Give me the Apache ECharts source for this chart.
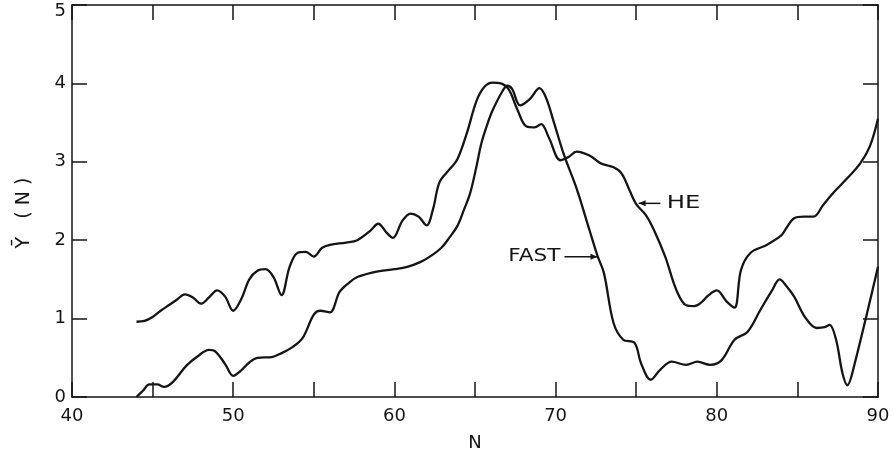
<!DOCTYPE html>
<html>
<head>
<meta charset="utf-8">
<script src="https://cdn.jsdelivr.net/npm/echarts@6/dist/echarts.min.js"></script>
<style>
  html, body { margin: 0; padding: 0; background: #fff; }
  #chart { width: 894px; height: 458px; }
</style>
</head>
<body>
<div id="chart"></div>
<script>
// HE curve (upper curve on the left)
const heN = [44, 44.5, 45, 45.5, 46, 46.5, 47, 47.5, 48, 48.5, 49, 49.5, 50, 50.5, 51, 51.5, 52, 52.5, 53, 53.5,
  54, 54.5, 55, 55.5, 56, 57, 57.7, 58.5, 59, 59.5, 59.9, 60.5, 61, 61.5, 62, 62.4, 62.8, 63.4, 63.9, 64.5,
  65.1, 65.6, 66.1, 66.6, 67.1, 67.6, 68.2, 68.7, 69.1, 69.6, 70.3, 70.8, 71.3, 72.1, 72.8, 73.6, 74.1, 74.6,
  75, 75.6, 76.1, 76.8, 77.5, 78.1, 78.6, 79, 79.5, 80, 80.6, 81.1, 81.5, 82.1, 83.1, 84, 84.3, 84.8, 85.4,
  86, 86.6, 87.3, 88, 88.9, 89.5, 90];
const heY = [0.96, 0.97, 1.02, 1.1, 1.17, 1.24, 1.31, 1.27, 1.19, 1.27, 1.36, 1.28, 1.1, 1.25, 1.5, 1.61, 1.63, 1.53, 1.3, 1.66,
  1.84, 1.85, 1.79, 1.9, 1.94, 1.97, 2.0, 2.12, 2.21, 2.1, 2.03, 2.25, 2.34, 2.3, 2.19, 2.4, 2.74, 2.9, 3.03, 3.37,
  3.78, 3.96, 4.01, 4.0, 3.92, 3.68, 3.45, 3.44, 3.48, 3.3, 3.02, 3.06, 3.13, 3.08, 2.98, 2.93, 2.85, 2.63,
  2.46, 2.32, 2.13, 1.79, 1.36, 1.17, 1.16, 1.2, 1.3, 1.36, 1.22, 1.14, 1.62, 1.84, 1.94, 2.06, 2.15, 2.28, 2.3,
  2.3, 2.45, 2.62, 2.77, 2.98, 3.2, 3.55];

// FAST curve (lower curve on the left)
const fastN = [44, 44.4, 44.8, 45.3, 45.7, 46.2, 47.1, 47.8, 48.5, 48.9, 49.5, 50, 50.5, 51, 51.5, 52.4, 53, 53.7,
  54.3, 55, 55.4, 56, 56.6, 57.2, 57.7, 58.9, 60, 60.8, 61.6, 62.2, 62.9, 63.4, 63.9, 64.3, 64.7, 65.1, 65.4,
  65.8, 66.1, 66.7, 67, 67.3, 67.8, 68.4, 69, 69.4, 69.9, 70.5, 71.3, 72.1, 72.6, 73, 73.6, 74.2, 74.9, 75.3,
  75.9, 76.5, 77.2, 78.1, 78.8, 79.6, 80.3, 81.1, 81.9, 82.7, 83.4, 83.9, 84.3, 84.8, 85.5, 86.2, 86.7, 87,
  87.4, 87.8, 88.1, 88.4, 90];
const fastY = [0, 0.08, 0.16, 0.16, 0.13, 0.18, 0.4, 0.52, 0.6, 0.58, 0.42, 0.27, 0.34, 0.44, 0.5, 0.51, 0.56, 0.64,
  0.75, 1.05, 1.1, 1.08, 1.34, 1.46, 1.53, 1.6, 1.63, 1.66, 1.72, 1.79, 1.9, 2.03, 2.18, 2.38, 2.6, 2.95, 3.24,
  3.5, 3.66, 3.9, 3.97, 3.93, 3.72, 3.8, 3.94, 3.82, 3.5, 3.1, 2.66, 2.13, 1.8, 1.58, 0.94, 0.73, 0.69, 0.43,
  0.22, 0.35, 0.45, 0.41, 0.45, 0.41, 0.47, 0.73, 0.83, 1.11, 1.35, 1.5, 1.42, 1.28, 1.01, 0.88, 0.89, 0.92,
  0.73, 0.3, 0.15, 0.3, 1.66];

const ink = '#151515';
const font = 'DejaVu Sans';

const chart = echarts.init(document.getElementById('chart'));

function pair(xs, ys) { return xs.map((x, i) => [x, ys[i]]); }

const tickStyle = { inside: true, length: 15, lineStyle: { color: ink, width: 1.5 } };
const lineStyleAxis = { show: true, onZero: false, lineStyle: { color: ink, width: 1.5 } };

chart.setOption({
  animation: false,
  backgroundColor: '#fff',
  grid: { left: 72, right: 16, top: 5, bottom: 61, outerBoundsMode: 'none', containLabel: false },
  xAxis: [
    {
      type: 'value', min: 40, max: 90, interval: 5, position: 'bottom',
      axisLine: lineStyleAxis, axisTick: tickStyle, splitLine: { show: false },
      axisLabel: {
        color: ink, fontFamily: font, fontSize: 18, margin: 10,
        formatter: v => (v % 10 === 0 ? String(v) : '')
      },
      name: 'N', nameLocation: 'middle', nameGap: 37,
      nameTextStyle: { color: ink, fontFamily: font, fontSize: 18 }
    },
    {
      type: 'value', min: 40, max: 90, interval: 5, position: 'top',
      axisLine: lineStyleAxis, axisTick: tickStyle, splitLine: { show: false },
      axisLabel: { show: false }
    }
  ],
  yAxis: [
    {
      type: 'value', min: 0, max: 5, interval: 1, position: 'left',
      axisLine: lineStyleAxis, axisTick: tickStyle, splitLine: { show: false },
      axisLabel: {
        color: ink, fontFamily: font, fontSize: 18, margin: 6,
        // the top label sits a little below its tick, as in the original
        formatter: v => (v === 5 ? '{top|5}' : String(v)),
        rich: { top: { fontFamily: font, fontSize: 18, color: ink, padding: [12, 0, 0, 0] } }
      },
      // trailing spaces nudge the rotated name a bit lower
      name: 'Ȳ   ( N )    ', nameLocation: 'middle', nameGap: 38, nameRotate: 90,
      nameTextStyle: { color: ink, fontFamily: font, fontSize: 19 }
    },
    {
      type: 'value', min: 0, max: 5, interval: 1, position: 'right',
      axisLine: lineStyleAxis, axisTick: tickStyle, splitLine: { show: false },
      axisLabel: { show: false }
    }
  ],
  series: [
    {
      name: 'HE', type: 'line', data: pair(heN, heY), smooth: 0.35, showSymbol: false,
      lineStyle: { color: ink, width: 2.3 }
    },
    {
      name: 'FAST', type: 'line', data: pair(fastN, fastY), smooth: 0.35, showSymbol: false,
      lineStyle: { color: ink, width: 2.3 }
    }
  ]
});

// curve labels with arrows, placed in data coordinates
const labels = [
  { text: 'FAST', at: [70.3, 1.79], align: 'right', sx: 1.2, from: [70.55, 1.79], to: [72.6, 1.79] },
  { text: 'HE', at: [76.9, 2.47], align: 'left', sx: 1.35, from: [76.5, 2.47], to: [75.15, 2.47] }
];
const elems = [];
labels.forEach(l => {
  const p = chart.convertToPixel({ xAxisIndex: 0, yAxisIndex: 0 }, l.at);
  const a = chart.convertToPixel({ xAxisIndex: 0, yAxisIndex: 0 }, l.from);
  const b = chart.convertToPixel({ xAxisIndex: 0, yAxisIndex: 0 }, l.to);
  elems.push({
    type: 'text', x: p[0], y: p[1], scaleX: l.sx,
    style: { text: l.text, fill: ink, font: '18px ' + font, textAlign: l.align, textVerticalAlign: 'middle' }
  });
  elems.push({
    type: 'line', shape: { x1: a[0], y1: a[1], x2: b[0], y2: b[1] },
    style: { stroke: ink, lineWidth: 1.5 }
  });
  const dir = Math.sign(b[0] - a[0]);
  elems.push({
    type: 'polygon',
    shape: { points: [[b[0], b[1]], [b[0] - dir * 7, b[1] - 3], [b[0] - dir * 7, b[1] + 3]] },
    style: { fill: ink }
  });
});
chart.setOption({ graphic: elems });
</script>
</body>
</html>
